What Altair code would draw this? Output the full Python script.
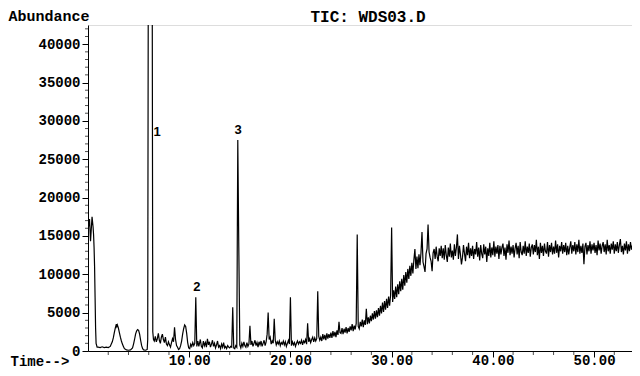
import altair as alt
import pandas as pd

# ---- early part of the chromatogram (irregular sampling), minutes / abundance
early_times = [0.05, 0.15, 0.25, 0.4, 0.5, 0.55, 0.6, 0.65, 0.7, 0.75, 0.8, 0.9,
               1.0, 1.2, 1.4, 1.6, 1.8, 2.0, 2.2, 2.3, 2.4, 2.5, 2.6, 2.7, 2.8, 2.85,
               2.9, 3.0, 3.1, 3.2, 3.3, 3.4, 3.5, 3.6, 3.8, 4.0, 4.2, 4.4, 4.5, 4.6,
               4.7, 4.8, 4.9, 5.0, 5.1, 5.2, 5.3, 5.4, 5.5, 5.7, 5.85, 5.9, 5.97, 6.33,
               6.4, 6.47, 6.55, 6.65, 6.75, 6.85, 6.95, 7.05, 7.15, 7.25, 7.35, 7.45,
               7.55, 7.65, 7.75, 7.85, 7.95, 8.05, 8.15, 8.25, 8.35, 8.45, 8.55, 8.65,
               8.75, 8.85, 8.95, 9.05, 9.15, 9.25, 9.35, 9.45, 9.55, 9.65, 9.75, 9.85,
               9.95, 10.05, 10.15, 10.25, 10.35, 10.45, 10.55, 10.65, 10.75, 10.85, 10.95]
early_values = [16200, 17200, 14300, 17500, 16200, 15200, 13500, 11000, 7000, 3000, 1000, 500,
                500, 450, 550, 450, 500, 450, 600, 900, 1200, 1700, 2400, 3000, 3500, 3200,
                3400, 3000, 2400, 1800, 1300, 900, 600, 300, 150, 100, 150, 400, 900, 1500,
                2200, 2600, 2800, 2700, 2200, 1400, 700, 300, 150, 100, 200, 1500, 60000, 60000,
                2500, 1500, 1300, 1900, 1200, 1600, 2300, 1400, 1000, 1800, 2200, 1500,
                1100, 1800, 900, 700, 1200, 800, 500, 1100, 1600, 1200, 3100, 1500,
                700, 500, 200, 300, 700, 1300, 2200, 2900, 3400, 3200, 2300, 1100,
                400, 300, 900, 600, 1100, 700, 1000, 7000, 600, 1300, 600]

# ---- later part, sampled every 0.1 min starting at 11.0 min
late_start = 11.0
late_step = 0.1
late_values = [
    900, 1500, 600, 400, 1300, 700, 1100, 500, 1600, 800,          # 11
    1200, 500, 900, 1400, 600, 1000, 400, 800, 1300, 500,          # 12
    700, 300, 900, 500, 1100, 400, 600, 300, 700, 500,             # 13
    400, 600, 500, 5700, 400, 300, 700, 500, 27500, 13500,         # 14
    800, 400, 1000, 600, 1200, 700, 500, 1100, 600, 900,           # 15
    3300, 800, 1300, 600, 1000, 1400, 700, 1100, 500, 1200,        # 16
    800, 1300, 600, 1000, 1400, 700, 1200, 2200, 5000, 1500,       # 17
    1800, 900, 1300, 1000, 4200, 1400, 800, 1200, 900, 1300,       # 18
    700, 1100, 900, 1300, 800, 1200, 600, 1000, 1400, 900,         # 19
    7000, 700, 1200, 800, 1100, 600, 1000, 1300, 900, 1200,        # 20
    1000, 1400, 800, 1300, 1100, 1500, 900, 3600, 1200, 1600,      # 21
    1100, 1500, 1800, 1200, 1700, 1300, 1600, 7800, 1900, 1400,    # 22
    1800, 1300, 2200, 1500, 2100, 1400, 2300, 1600, 2200, 1700,    # 23
    2400, 1700, 2600, 1900, 2500, 1800, 2700, 2100, 3800, 2400,    # 24
    2300, 3000, 2200, 2900, 2400, 3100, 2300, 3000, 2500, 3200,    # 25
    2700, 3500, 2600, 3300, 2800, 3600, 15200, 3200, 2900, 3800,   # 26
    3200, 4100, 3100, 4000, 3400, 5500, 3500, 4400, 3600, 4600,    # 27
    3900, 4900, 4100, 5200, 4200, 5300, 4400, 5600, 4600, 5900,    # 28
    4900, 6300, 5100, 6500, 5400, 6800, 5600, 7100, 5900, 7300,    # 29
    16100, 6400, 7900, 6800, 8400, 7000, 8700, 7400, 9100, 7800,   # 30
    9400, 8000, 9900, 8500, 10300, 8900, 10700, 9400, 11100, 9800, # 31
    11500, 10100, 11900, 13300, 10700, 12300, 10800, 12600, 11200, 12800,  # 32
    15500, 11600, 11000, 10300, 12700, 13300, 16500, 12900, 12200, 11700,  # 33
    10400, 12800, 13300, 12000, 13600, 12300, 11700, 13400, 12400, 13700,  # 34
    12100, 13400, 11900, 13800, 12500, 11600, 13500, 12300, 14000, 12200,  # 35
    13100, 11900, 13900, 12400, 13500, 15200, 12000, 13700, 12600, 11300,  # 36
    12200, 13800, 12700, 11700, 13600, 12500, 14100, 12100, 13400, 12400,  # 37
    13700, 12000, 13300, 12600, 14200, 12300, 13500, 11800, 13800, 12700,  # 38
    12100, 13900, 12600, 13600, 11600, 13400, 12400, 14100, 12200, 13500,  # 39
    12500, 14300, 12300, 13600, 12700, 13800, 12000, 13700, 12600, 13500,  # 40
    14000, 12400, 13500, 11900, 13900, 12800, 14400, 12500, 13600, 12700,  # 41
    13800, 12200, 13400, 14100, 12600, 13700, 12100, 14200, 12900, 12500,  # 42
    13700, 12700, 14300, 12400, 13600, 12800, 14000, 12300, 13500, 13900,  # 43
    12600, 13800, 12900, 14500, 12500, 13600, 12000, 14100, 12800, 13700,  # 44
    12400, 14000, 13000, 12700, 14200, 12300, 13800, 12900, 14100, 12600,  # 45
    13600, 12700, 14400, 12800, 13900, 12200, 13700, 13000, 14200, 12700,  # 46
    13800, 12900, 14100, 12500, 13700, 12600, 13500, 14300, 12700, 13800,  # 47
    13000, 14200, 12600, 13900, 12900, 14500, 12700, 13700, 12800, 14000,  # 48
    11300, 13600, 14100, 12600, 13800, 13000, 14300, 12700, 13900, 13100,  # 49
    14100, 12800, 13800, 12500, 14400, 13100, 14000, 12700, 13700, 14200,  # 50
    12900, 13900, 12600, 14500, 13000, 13800, 12700, 14000, 13200, 14300,  # 51
    12700, 13900, 13000, 14200, 12800, 13800, 14600, 12900, 13700, 12600,  # 52
    14000, 13100, 14300, 12700, 13900, 13000, 14200, 13200, 13800, 12900,  # 53
    14100, 13100, 13900, 13300, 14300, 13000, 13800,                      # 54
]

peak_labels = ["1", "2", "3"]
peak_label_times = [6.82, 10.75, 14.82]
peak_label_values = [28500, 8400, 28800]

header_text = ["TIC: WDS03.D"]
header_time = [27.67]

x_major_ticks = [10, 20, 30, 40, 50]
x_minor_ticks = [2, 4, 6, 8, 12, 14, 16, 18, 22, 24, 26, 28, 32, 34, 36, 38,
                 42, 44, 46, 48, 52]
y_major_ticks = [0, 5000, 10000, 15000, 20000, 25000, 30000, 35000, 40000]
y_minor_ticks = [1000, 2000, 3000, 4000, 6000, 7000, 8000, 9000, 11000, 12000,
                 13000, 14000, 16000, 17000, 18000, 19000, 21000, 22000, 23000,
                 24000, 26000, 27000, 28000, 29000, 31000, 32000, 33000, 34000,
                 36000, 37000, 38000, 39000, 41000, 42000]

late_times = [round(late_start + i * late_step, 2) for i in range(len(late_values))]
df = pd.DataFrame({"time": early_times + late_times,
                   "abundance": early_values + late_values})
lbl = pd.DataFrame({"time": peak_label_times, "abundance": peak_label_values,
                    "label": peak_labels})
hdr = pd.DataFrame({"time": header_time, "label": header_text})
xminor = pd.DataFrame({"time": x_minor_ticks})
yminor = pd.DataFrame({"abundance": y_minor_ticks})

MONO = "Liberation Mono"

x_scale = alt.Scale(domain=[0, 53.75], nice=False, zero=False)
y_scale = alt.Scale(domain=[0, 42500], nice=False)

x_axis = alt.Axis(
    values=x_major_ticks, format=".2f", tickSize=6,
    grid=False, domainColor="black", tickColor="black", domainWidth=1,
    labelFont=MONO, labelFontSize=14, labelFontWeight="bold", labelColor="black",
    labelBaseline="alphabetic", labelPadding=7, labelOverlap=False, labelFlush=False,
    title="Time-->", titleFont=MONO, titleFontSize=14, titleFontWeight="bold",
    titleColor="black", titleAngle=0, titleAlign="left", titleBaseline="alphabetic",
    titleX=-78, titleY=14,
)
y_axis = alt.Axis(
    values=y_major_ticks, format="d", tickSize=6,
    grid=False, domainColor="black", tickColor="black", domainWidth=1,
    labelFont=MONO, labelFontSize=14, labelFontWeight="bold", labelColor="black",
    labelPadding=2, labelOverlap=False,
    title="Abundance", titleFont=MONO, titleFontSize=15, titleFontWeight="bold",
    titleColor="black", titleAngle=0, titleAlign="left", titleBaseline="middle",
    titleX=-80, titleY=-10,
)

line = alt.Chart(df).mark_line(color="black", strokeWidth=1.2, clip=True).encode(
    x=alt.X("time:Q", scale=x_scale, axis=x_axis),
    y=alt.Y("abundance:Q", scale=y_scale, axis=y_axis),
)

x_minor = alt.Chart(xminor).mark_tick(
    orient="vertical", size=4, thickness=1, color="black", yOffset=2
).encode(
    x=alt.X("time:Q", scale=x_scale),
    y=alt.value(326),
)

y_minor = alt.Chart(yminor).mark_tick(
    orient="horizontal", size=3, thickness=1, color="black", xOffset=-1.5
).encode(
    y=alt.Y("abundance:Q", scale=y_scale),
    x=alt.value(0),
)

text = alt.Chart(lbl).mark_text(
    font="Liberation Sans", fontWeight="bold", fontSize=13, color="black"
).encode(
    x=alt.X("time:Q", scale=x_scale),
    y=alt.Y("abundance:Q", scale=y_scale),
    text="label:N",
)

header = alt.Chart(hdr).mark_text(
    font=MONO, fontWeight="bold", fontSize=16, color="black", baseline="middle"
).encode(
    x=alt.X("time:Q", scale=x_scale),
    y=alt.value(-8),
    text="label:N",
)

chart = alt.layer(line, x_minor, y_minor, text, header).properties(
    width=544, height=326,
    padding={"left": 80, "top": 17, "right": 0, "bottom": 17},
    autosize=alt.AutoSizeParams(type="none"),
).configure_view(stroke=None).configure(background="white")

chart.save("out.html", embed_options={"renderer": "svg", "actions": False})
